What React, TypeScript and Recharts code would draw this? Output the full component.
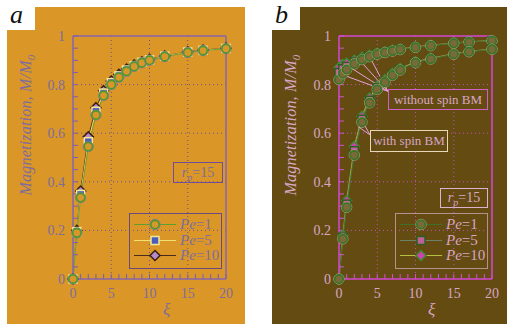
import React from "react";
import { LineChart, Line, XAxis, YAxis, CartesianGrid, ReferenceLine } from "recharts";

// panel a
const xiA = [0, 0.5, 1, 2, 3, 4, 5, 6, 7, 8, 9, 10, 12, 15, 17, 20];
const aPe1 = [0, 0.19, 0.335, 0.545, 0.675, 0.755, 0.8, 0.83, 0.855, 0.875, 0.89, 0.9, 0.915, 0.932, 0.94, 0.948];
const aPe5 = [0, 0.195, 0.348, 0.565, 0.69, 0.765, 0.808, 0.836, 0.86, 0.878, 0.892, 0.902, 0.917, 0.934, 0.941, 0.949];
const aPe10 = [0, 0.2, 0.362, 0.585, 0.705, 0.775, 0.815, 0.842, 0.864, 0.881, 0.894, 0.904, 0.918, 0.935, 0.942, 0.95];

// panel b: without spin BM (up) / with spin BM (lo)
const xiB = [0, 0.5, 1, 2, 3, 4, 5, 6, 7, 8, 10, 12, 15, 17, 20];
const upPe1 = [0.82, 0.845, 0.862, 0.885, 0.903, 0.915, 0.925, 0.932, 0.938, 0.944, 0.953, 0.96, 0.97, 0.975, 0.98];
const upPe5 = [0.85, 0.865, 0.875, 0.893, 0.908, 0.918, 0.927, 0.934, 0.94, 0.945, 0.954, 0.961, 0.971, 0.976, 0.981];
const upPe10 = [0.87, 0.882, 0.888, 0.9, 0.912, 0.921, 0.929, 0.935, 0.941, 0.946, 0.955, 0.962, 0.971, 0.976, 0.981];
const loPe1 = [0, 0.165, 0.295, 0.51, 0.645, 0.725, 0.78, 0.81, 0.838, 0.86, 0.89, 0.905, 0.925, 0.935, 0.945];
const loPe5 = [0, 0.172, 0.308, 0.528, 0.657, 0.735, 0.787, 0.815, 0.842, 0.863, 0.892, 0.907, 0.926, 0.936, 0.946];
const loPe10 = [0, 0.18, 0.322, 0.545, 0.67, 0.745, 0.793, 0.82, 0.846, 0.866, 0.894, 0.908, 0.927, 0.937, 0.946];

const xTicks = [0, 1, 2, 3, 4, 5, 6, 7, 8, 9, 10, 11, 12, 13, 14, 15, 16, 17, 18, 19, 20];
const xLabels = [0, 5, 10, 15, 20];
const yTicks = [0, 0.05, 0.1, 0.15, 0.2, 0.25, 0.3, 0.35, 0.4, 0.45, 0.5, 0.55, 0.6, 0.65, 0.7, 0.75, 0.8, 0.85, 0.9, 0.95, 1];
const yLabels = [0, 0.2, 0.4, 0.6, 0.8, 1];
const gridX = [5, 10, 15];
const gridY = [0.2, 0.4, 0.6, 0.8];

const serif = "Liberation Serif, DejaVu Serif, serif";

const fmtX = (v: number) => (xLabels.includes(v) ? String(v) : "");
const fmtY = (v: number) => (yLabels.some((l) => Math.abs(l - v) < 1e-9) ? String(v) : "");

const ring = (stroke: string, fill: string, halo?: string) => (p: any) => (
  <g key={p.key}>
    {halo && <circle cx={p.cx} cy={p.cy} r={5.2} fill="none" stroke={halo} strokeWidth={0.8} />}
    <circle cx={p.cx} cy={p.cy} r={4.2} fill={fill} stroke={stroke} strokeWidth={1.7} />
  </g>
);
const square = (stroke: string, fill: string) => (p: any) => (
  <rect key={p.key} x={p.cx - 4} y={p.cy - 4} width={8} height={8} fill={fill} stroke={stroke} strokeWidth={1.5} />
);
const diamond = (stroke: string, fill: string) => (p: any) => (
  <polygon
    key={p.key}
    points={`${p.cx},${p.cy - 5} ${p.cx + 5},${p.cy} ${p.cx},${p.cy + 5} ${p.cx - 5},${p.cy}`}
    fill={fill}
    stroke={stroke}
    strokeWidth={1.5}
  />
);

const themeA = { bg: "#DA9727", frame: "#8466B0", grid: "#6E4E9A", text: "#7E6C9E", tick: "#7A5CB0" };
const themeB = { bg: "#634B12", frame: "#D444D4", grid: "#C050C0", text: "#D9A6C4", tick: "#D050D0" };

const styA = {
  pe1: { line: "#5E9E2E", dot: ring("#4E9A2A", "#D9962B", "#8A70B8") },
  pe5: { line: "#F2E070", dot: square("#F4E890", "#4A5CC0") },
  pe10: { line: "#4A2A18", dot: diamond("#3A2010", "#B58ACB") },
};
const styB = {
  pe1: { line: "#3F6E25", dot: ring("#3C7428", "#7A6A3A", "#B8A888") },
  pe5: { line: "#6E8068", dot: square("#2E5E1C", "#C0609A") },
  pe10: { line: "#B4C040", dot: diamond("#3E8A30", "#D040B0") },
};

const rowsA = xiA.map((x, i) => ({ xi: x, pe1: aPe1[i], pe5: aPe5[i], pe10: aPe10[i] }));
const rowsB = xiB.map((x, i) => ({
  xi: x,
  up1: upPe1[i],
  up5: upPe5[i],
  up10: upPe10[i],
  lo1: loPe1[i],
  lo5: loPe5[i],
  lo10: loPe10[i],
}));

function frameAxes(t: typeof themeA) {
  const line = { stroke: t.frame, strokeWidth: 1.5 };
  const tl = { stroke: t.tick, strokeWidth: 1 };
  const tk = { fill: t.text, fontSize: 14, fontFamily: serif };
  return [
    <XAxis key="xb" xAxisId="b" dataKey="xi" type="number" domain={[0, 20]} ticks={xTicks} interval={0} height={1}
      tickSize={-5} tickMargin={14} tickFormatter={fmtX} axisLine={line} tickLine={tl} tick={tk} />,
    <XAxis key="xt" xAxisId="t" orientation="top" dataKey="xi" type="number" domain={[0, 20]} ticks={xTicks} interval={0}
      height={1} tickSize={-5} axisLine={line} tickLine={tl} tick={false} />,
    <YAxis key="yl" yAxisId="l" type="number" domain={[0, 1]} ticks={yTicks} interval={0} width={1}
      tickSize={-5} tickMargin={13} tickFormatter={fmtY} axisLine={line} tickLine={tl} tick={tk} />,
    <YAxis key="yr" yAxisId="r" orientation="right" type="number" domain={[0, 1]} ticks={yTicks} interval={0} width={1}
      tickSize={-5} axisLine={line} tickLine={tl} tick={false} />,
    <CartesianGrid key="g" xAxisId="b" yAxisId="l" stroke={t.grid} strokeDasharray="1 3"
      horizontalValues={gridY} verticalValues={gridX} />,
  ];
}

const serie = (key: string, s: { line: string; dot: any }) => (
  <Line key={key} xAxisId="b" yAxisId="l" dataKey={key} type="linear" stroke={s.line} strokeWidth={0.9}
    dot={s.dot} activeDot={false} isAnimationActive={false} />
);

const abs = (l: number, t: number, extra: React.CSSProperties = {}): React.CSSProperties => ({
  position: "absolute",
  left: l,
  top: t,
  fontFamily: serif,
  ...extra,
});

function LegendBox({ x, y, sty, color, border }: any) {
  const rows = [
    { s: sty.pe1, n: "1" },
    { s: sty.pe5, n: "5" },
    { s: sty.pe10, n: "10" },
  ];
  return (
    <div style={abs(x, y, { width: 91, height: 54, border: `1px solid ${border}` })}>
      {rows.map((r, i) => (
        <div key={i} style={abs(0, 3 + i * 15.5, { width: 91, height: 15 })}>
          <svg width={46} height={15} style={{ position: "absolute", left: 3, top: 0 }}>
            <line x1={1} x2={43} y1={7.5} y2={7.5} stroke={r.s.line} strokeWidth={1.2} />
            {r.s.dot({ cx: 22, cy: 7.5, key: "d" })}
          </svg>
          <span style={abs(50, -1, { fontSize: 15, lineHeight: "17px", color, whiteSpace: "nowrap" })}>
            <i>Pe</i>={r.n}
          </span>
        </div>
      ))}
    </div>
  );
}

function Labels({ ox, t, letter, xiX }: { ox: number; t: typeof themeA; letter: string; xiX: number }) {
  return (
    <>
      <div style={abs(ox, 0, { width: 28, height: 30, background: "#fff" })} />
      <div style={abs(ox + 3, 2, { fontSize: 26, lineHeight: "26px", fontStyle: "italic", color: "#111" })}>{letter}</div>
      <div
        style={abs(ox + 20, 125, {
          transform: "translate(-50%, -50%) rotate(-90deg)",
          whiteSpace: "nowrap",
          fontSize: 16,
          fontStyle: "italic",
          color: t.text,
          letterSpacing: 0.2,
        })}
      >
        Magnetization, M/M<sub style={{ fontSize: 11 }}>0</sub>
      </div>
      <div style={abs(xiX - 5, 300, { fontSize: 17, fontStyle: "italic", color: t.text })}>ξ</div>
    </>
  );
}

function RpBox({ x, y, w, h, color, border }: any) {
  return (
    <div style={abs(x, y, { width: w, height: h, border: `1px solid ${border}`, boxSizing: "border-box", color,
      fontSize: 14, textAlign: "center", lineHeight: `${h - 2}px` })}>
      <i>r</i><sub style={{ fontSize: 10, fontStyle: "italic" }}>p</sub>=15
    </div>
  );
}

export default function App() {
  return (
    <div style={{ position: "absolute", left: 0, top: 0, width: 507, height: 324, background: "#fff", overflow: "hidden" }}>
      {/* panel a */}
      <div style={abs(7, 7, { width: 238, height: 317, background: themeA.bg })}>
        <LineChart width={238} height={317} data={rowsA} margin={{ top: 28, right: 18, bottom: 44, left: 65 }}>
          {frameAxes(themeA)}
          {serie("pe10", styA.pe10)}
          {serie("pe5", styA.pe5)}
          {serie("pe1", styA.pe1)}
        </LineChart>
      </div>
      <Labels ox={7} t={themeA} letter="a" xiX={168} />
      <RpBox x={173} y={162} w={50} h={21} color={themeA.text} border="#6E4E9A" />
      <LegendBox x={129} y={213} sty={styA} color={themeA.text} border="#6A4A80" />

      {/* panel b */}
      <div style={abs(272, 7, { width: 235, height: 317, background: themeB.bg })}>
        <LineChart width={235} height={317} data={rowsB} margin={{ top: 28, right: 14, bottom: 44, left: 66 }}>
          {frameAxes(themeB)}
          {serie("up10", styB.pe10)}
          {serie("up5", styB.pe5)}
          {serie("up1", styB.pe1)}
          {serie("lo10", styB.pe10)}
          {serie("lo5", styB.pe5)}
          {serie("lo1", styB.pe1)}
          {[
            [0.5, 0.84],
            [1.5, 0.87],
            [2.7, 0.9],
            [4, 0.915],
          ].map(([x, y], i) => (
            <ReferenceLine key={"w" + i} xAxisId="b" yAxisId="l" stroke="#E8A0D8" strokeWidth={1}
              segment={[{ x: 6.4, y: 0.772 }, { x, y }]} ifOverflow="visible" />
          ))}
          {[
            [2.5, 0.627],
            [2.97, 0.654],
          ].map(([x, y], i) => (
            <ReferenceLine key={"s" + i} xAxisId="b" yAxisId="l" stroke="#E8A0D8" strokeWidth={1}
              segment={[{ x: 4.06, y: 0.593 }, { x, y }]} ifOverflow="visible" />
          ))}
        </LineChart>
      </div>
      <Labels ox={272} t={themeB} letter="b" xiX={433} />
      <div style={abs(388, 89, { width: 100, height: 21, border: "1px solid #D060C8", boxSizing: "border-box",
        color: themeB.text, fontSize: 13, textAlign: "center", lineHeight: "19px", background: themeB.bg })}>
        without spin BM
      </div>
      <div style={abs(370, 130, { width: 78, height: 22, border: "1px solid #E8D8B8", boxSizing: "border-box",
        color: themeB.text, fontSize: 13, textAlign: "center", lineHeight: "20px", background: themeB.bg })}>
        with spin BM
      </div>
      <RpBox x={440} y={188} w={48} h={20} color={themeB.text} border="#E0B0D0" />
      <LegendBox x={395} y={213} sty={styB} color={themeB.text} border="#B89090" />
    </div>
  );
}
